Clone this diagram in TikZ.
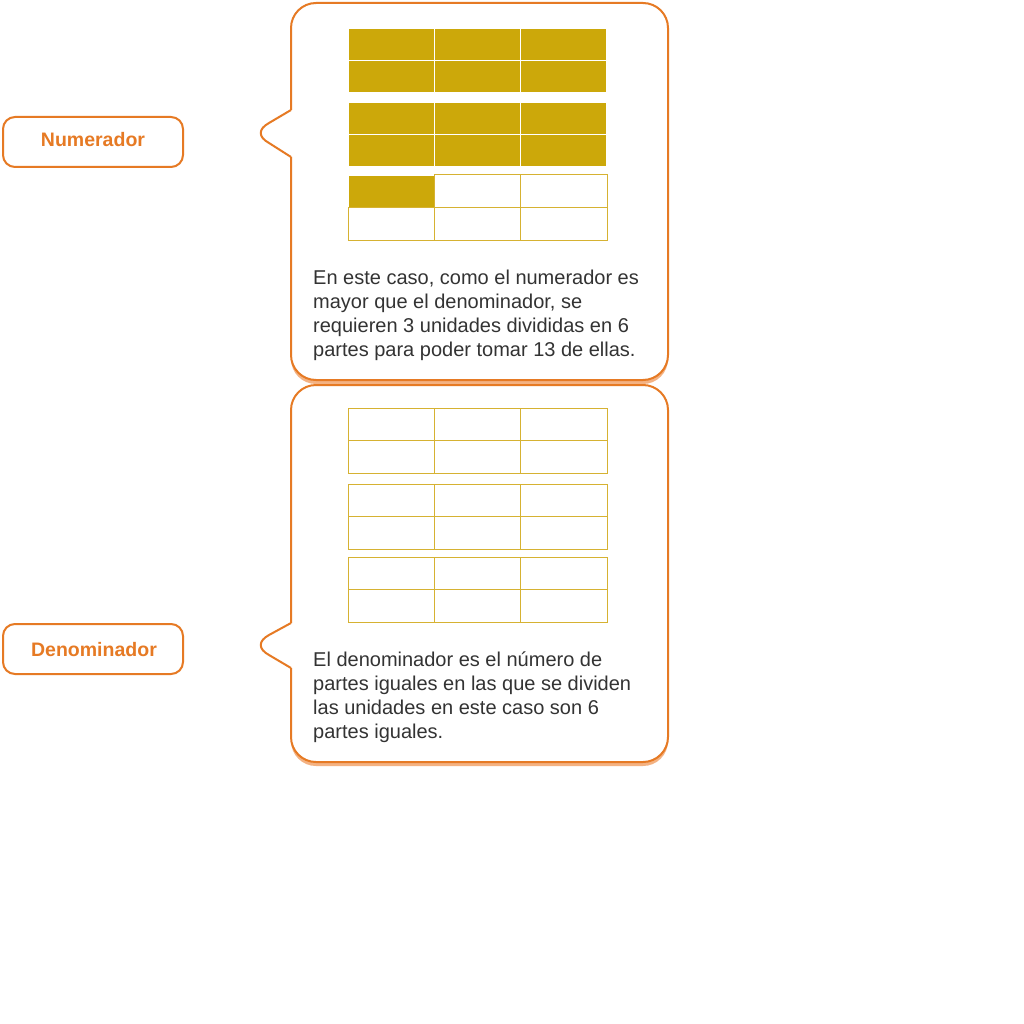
\documentclass[tikz,border=0pt]{standalone}
\usepackage{fontspec}
\setmainfont{Liberation Sans}
\definecolor{edgeorange}{RGB}{230,122,36}
\definecolor{shadeorange}{RGB}{244,178,130}
\definecolor{gold}{RGB}{204,168,10}
\definecolor{goldline}{RGB}{214,178,50}
\definecolor{textgray}{RGB}{51,51,51}
\tikzset{
  callout/.style={draw=edgeorange, line width=2pt, line join=round},
  tag/.style={draw=edgeorange, line width=2pt, rounded corners=12pt, fill=white,
    minimum width=180pt, minimum height=50pt, text=edgeorange,
    font=\fontsize{19.5}{24}\selectfont\bfseries},
  note/.style={anchor=north west, inner sep=0pt, align=left, text=textgray,
    font=\fontsize{20}{24}\selectfont},
  emptycell/.style={draw=goldline, line width=1pt},
  fullcell/.style={fill=gold, draw=white, line width=1.5pt}
}
\begin{document}
\begin{tikzpicture}[x=1pt, y=-1pt]
\useasboundingbox[fill=white] (0,0) rectangle (1024,1024);

% labels
\draw[tag] (3,117) rectangle (183,167);
\node[text=edgeorange, font=\fontsize{19.5}{24}\selectfont\bfseries] (num) at (93,140) {Numerador};
\draw[tag] (3,624) rectangle (183,674);
\node[text=edgeorange, font=\fontsize{19.5}{24}\selectfont\bfseries] (den) at (94,650) {Denominador};

% callout for the numerator
\fill[shadeorange, rounded corners=25pt] (291,7) rectangle (668,384);
\fill[white, rounded corners=25pt] (291,3) rectangle (668,380);
\draw[callout] (291,110) [rounded corners=25pt] -- (291,3) -- (668,3) -- (668,380) -- (291,380) -- (291,157);
\draw[callout] (291,110) -- (269,123) .. controls (258,129) and (258,137) .. (269,143) -- (291,157);

% callout for the denominator
\fill[shadeorange, rounded corners=25pt] (291,389) rectangle (668,766);
\fill[white, rounded corners=25pt] (291,385) rectangle (668,762);
\draw[callout] (291,623) [rounded corners=25pt] -- (291,385) -- (668,385) -- (668,762) -- (291,762) -- (291,668);
\draw[callout] (291,623) -- (269,635) .. controls (258,641) and (258,649) .. (269,655) -- (291,668);

% grids: top of each unit / number of coloured parts
\foreach \top/\n in {28/6, 102/6, 175/1, 408/0, 484/0, 557/0} {
  \foreach \i in {0,...,5} {
    \pgfmathtruncatemacro{\r}{int(\i/3)}
    \pgfmathtruncatemacro{\c}{mod(\i,3)}
    \ifnum\i<\n
      \filldraw[fullcell] (348+86.33*\c, \top+32.5*\r) rectangle ++(86.33,32.5);
    \else
      \draw[emptycell] (348+86.33*\c, \top+32.5*\r) rectangle ++(86.33,32.5);
    \fi
  }
}

% texts
\node[note] (numtext) at (313,270) {En este caso, como el numerador es\\
  mayor que el denominador, se\\
  requieren 3 unidades divididas en 6\\
  partes para poder tomar 13 de ellas.};
\node[note] (dentext) at (313,652) {El denominador es el número de\\
  partes iguales en las que se dividen\\
  las unidades en este caso son 6\\
  partes iguales.};
\end{tikzpicture}
\end{document}
